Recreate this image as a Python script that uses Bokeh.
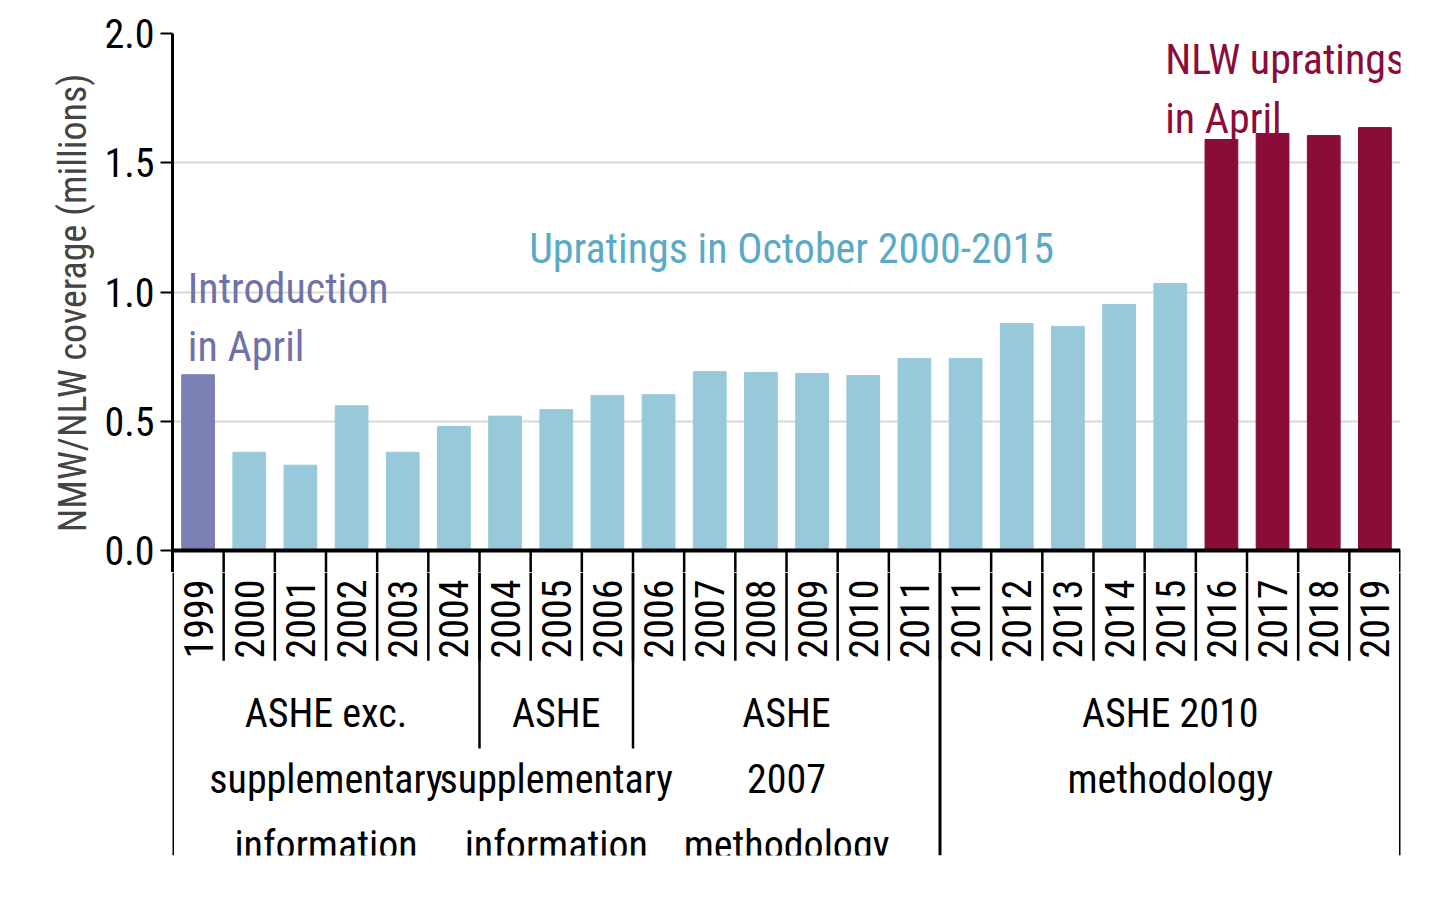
from math import pi
from bokeh.plotting import figure
from bokeh.layouts import column
from bokeh.models import Range1d, FixedTicker, ColumnDataSource, Label
from bokeh.core.properties import value
from bokeh.embed import file_html
from bokeh.resources import INLINE

years = ["1999","2000","2001","2002","2003","2004","2004","2005","2006","2006","2007","2008",
         "2009","2010","2011","2011","2012","2013","2014","2015","2016","2017","2018","2019"]
coverage = [0.68,0.38,0.33,0.56,0.38,0.48,0.52,0.545,0.60,0.603,0.692,0.689,
            0.685,0.677,0.743,0.743,0.878,0.867,0.952,1.033,1.59,1.613,1.605,1.636]
series = ["intro"] + ["oct"]*19 + ["nlw"]*4
colors_map = {"intro": "#7b7fb3", "oct": "#97c9da", "nlw": "#8a0c38"}
groups = ["ASHE exc.\nsupplementary\ninformation", "ASHE\nsupplementary\ninformation",
          "ASHE\n2007\nmethodology", "ASHE 2010\nmethodology"]
group_start = [0, 6, 9, 15]
group_end = [5, 8, 14, 23]
group_sep_short = [5.5, 8.5]
group_sep_long = [-0.5, 14.5, 23.5]

FONT = "'Liberation Sans Narrow', 'Roboto Condensed', 'DejaVu Sans Condensed', sans-serif"
xs = list(range(len(years)))
W = 1440
LB = 172
SPLIT = -0.085
seps = [i + 0.5 for i in xs[:-1]]

top = figure(width=W, height=572, x_range=Range1d(-0.5, 23.5), y_range=Range1d(SPLIT, 2.0),
             output_backend="svg", toolbar_location=None, min_border_left=LB,
             min_border_top=33, min_border_bottom=0, min_border_right=40)
top.outline_line_color = None
top.xaxis.visible = False
top.xgrid.visible = False
top.ygrid.ticker = FixedTicker(ticks=[0.5, 1.0, 1.5, 2.0])
top.ygrid.grid_line_color = "#d9d9d9"
top.ygrid.grid_line_width = 2
ya = top.yaxis[0]
ya.ticker = FixedTicker(ticks=[0, 0.5, 1.0, 1.5, 2.0])
ya.major_label_overrides = {0: "0.0", 0.5: "0.5", 1.0: "1.0", 1.5: "1.5", 2.0: "2.0"}
ya.axis_line_width = 3
ya.axis_line_color = "black"
ya.major_tick_out = 12
ya.major_tick_in = 0
ya.major_tick_line_width = 2
ya.minor_tick_line_color = None
ya.major_label_text_font = FONT
ya.major_label_text_font_size = "40px"
ya.major_label_text_color = "black"
ya.major_label_standoff = 6
ya.axis_label = "NMW/NLW coverage (millions)"
ya.axis_label_text_font = FONT
ya.axis_label_text_font_size = "38px"
ya.axis_label_text_font_style = "normal"
ya.axis_label_standoff = 6

src = ColumnDataSource(dict(x=xs, top=coverage, color=[colors_map[s] for s in series]))
top.vbar(x="x", top="top", width=0.64, color="color", source=src)
top.line(x=[-0.5, 23.5], y=[0, 0], line_color="black", line_width=4)
top.segment(x0=seps, x1=seps, y0=[0]*len(seps), y1=[SPLIT]*len(seps),
            line_color="black", line_width=2.5)
top.segment(x0=[23.5], x1=[23.5], y0=[0], y1=[SPLIT], line_color="black", line_width=3)

top.add_layout(Label(x=-0.2, y=1.11, text="Introduction\nin April", text_color="#6f72a8",
                     text_font=FONT, text_font_size="42px", text_baseline="top", text_line_height=1.2))
top.add_layout(Label(x=11.6, y=1.17, text="Upratings in October 2000-2015", text_color="#5aaac6",
                     text_font=FONT, text_font_size="42px", text_baseline="middle", text_align="center"))
top.add_layout(Label(x=18.9, y=1.995, text="NLW upratings\nin April", text_color="#8a0c38",
                     text_font=FONT, text_font_size="42px", text_baseline="top", text_line_height=1.2))

bot = figure(width=W, height=313, x_range=top.x_range, y_range=Range1d(-1.18, SPLIT),
             output_backend="svg", toolbar_location=None, min_border_left=LB,
             min_border_top=0, min_border_bottom=30, min_border_right=40)
bot.outline_line_color = None
bot.axis.visible = False
bot.grid.visible = False

bot.text(x=xs, y=[-0.418]*len(xs), text=years, angle=pi/2, text_align="left",
         text_baseline="middle", text_font=value(FONT), text_font_size="40px", text_color="black")
bot.segment(x0=seps, x1=seps, y0=[SPLIT]*len(seps), y1=[-0.426]*len(seps),
            line_color="black", line_width=2.5)
bot.segment(x0=group_sep_short, x1=group_sep_short, y0=[SPLIT]*2, y1=[-0.766]*2,
            line_color="black", line_width=2.5)
bot.segment(x0=group_sep_long, x1=group_sep_long, y0=[SPLIT]*3, y1=[-1.18]*3,
            line_color="black", line_width=3)
gx = [(a + b) / 2 for a, b in zip(group_start, group_end)]
bot.text(x=gx, y=[-0.54]*4, text=groups, text_align="center", text_baseline="top",
         text_font=value(FONT), text_font_size="40px", text_line_height=1.4, text_color="black")

layout = column(top, bot, spacing=0)
open("out.html", "w").write(file_html(layout, INLINE))
